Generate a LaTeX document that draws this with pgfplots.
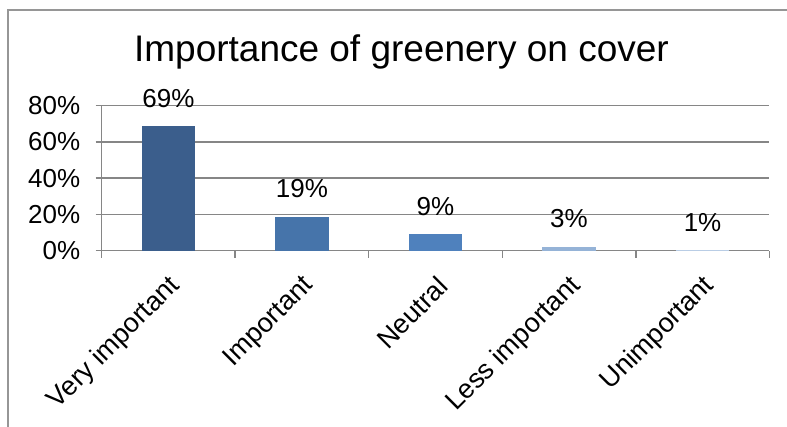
\documentclass[border=0pt]{standalone}
\usepackage{pgfplots}
\pgfplotsset{compat=1.18}
\usepackage{fontspec}
\setmainfont{Liberation Sans}
\definecolor{bA}{RGB}{59,94,140}
\definecolor{bB}{RGB}{70,116,170}
\definecolor{bC}{RGB}{79,129,189}
\definecolor{bD}{RGB}{149,179,215}
\definecolor{bE}{RGB}{185,205,229}
\definecolor{gridc}{RGB}{134,134,134}
\definecolor{framec}{RGB}{150,150,150}
\begin{document}
\begin{tikzpicture}[x=1pt,y=1pt]
\useasboundingbox (0,0) rectangle (787,426);
\draw[framec, line width=2pt] (8,-10) -- (8,416) -- (800,416);
\begin{axis}[
  at={(101.7pt,175.3pt)}, anchor=south west,
  scale only axis, width=667.6pt, height=145pt,
  xmin=-0.5, xmax=4.5, ymin=0, ymax=80,
  axis lines*=left,
  axis line style={gridc, line width=1.5pt},
  ytick={0,20,40,60,80},
  yticklabel={\pgfmathprintnumber{\tick}\%},
  /pgf/number format/assume math mode=true,
  ymajorgrids,
  grid style={gridc, line width=1.5pt},
  y tick style={gridc, line width=1.5pt},
  tick align=outside,
  major tick length=6pt,
  yticklabel style={font=\fontsize{26}{30}\selectfont, anchor=east, xshift=-12pt},
  xtick={0,1,2,3,4},
  xticklabels={Very important, Important, Neutral, Less important, Unimportant},
  x tick style={draw=none},
  xticklabel style={font=\fontsize{27}{30}\selectfont, rotate=45, anchor=east, xshift=-9pt, yshift=-23pt},
  extra x ticks={-0.5,0.5,1.5,2.5,3.5,4.5},
  extra x tick labels={},
  extra x tick style={x tick style={draw=gridc, line width=1.5pt}, major tick length=7pt, grid=none},
  title={Importance of greenery on cover},
  title style={font=\fontsize{37}{42}\selectfont, at={(axis description cs:0.449,1)}, anchor=base, yshift=38pt},
  ybar, bar width=53.3pt, bar shift=0pt,
  point meta=explicit symbolic,
  nodes near coords,
  nodes near coords style={font=\fontsize{26}{30}\selectfont, anchor=base, yshift=19pt, black},
  clip=false,
]
\addplot[fill=bA, draw=none] coordinates {(0,68.8) [69\%]};
\addplot[fill=bB, draw=none] coordinates {(1,18.8) [19\%]};
\addplot[fill=bC, draw=none] coordinates {(2,9.2) [9\%]};
\addplot[fill=bD, draw=none] coordinates {(3,2.2) [3\%]};
\addplot[fill=bE, draw=none] coordinates {(4,0.3) [1\%]};
\end{axis}
\end{tikzpicture}
\end{document}
